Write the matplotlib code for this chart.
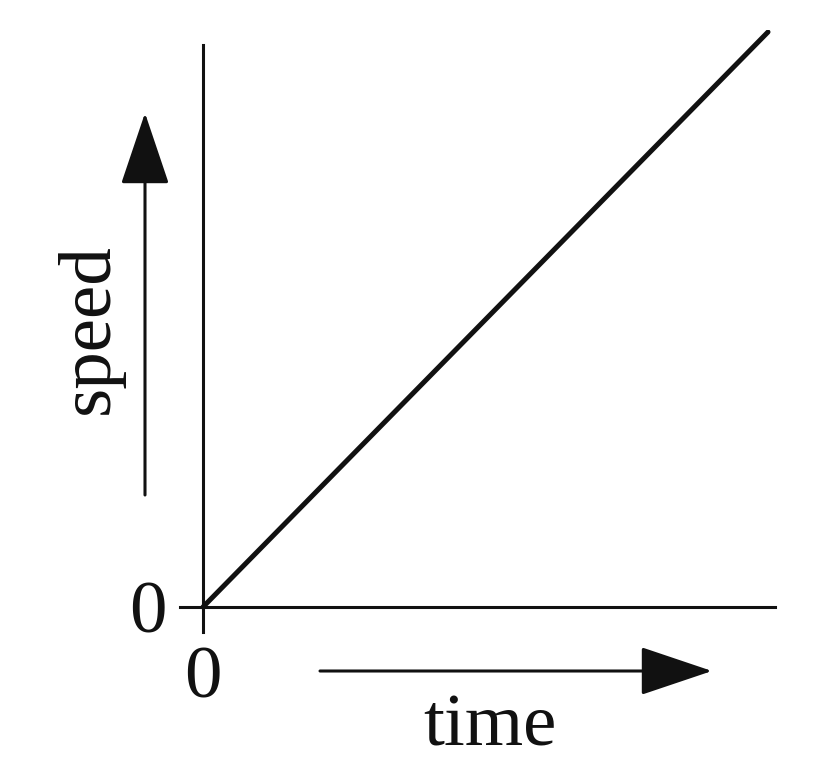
import matplotlib
matplotlib.use("Agg")
import matplotlib.pyplot as plt
from matplotlib.patches import FancyArrowPatch

# data: speed rises linearly with time from 0
time = [0, 10]
speed = [0, 10]
tick_labels = ["0"]
x_label = "time"
y_label = "speed"

W, H = 815, 769
fig = plt.figure(figsize=(W / 100, H / 100), dpi=100)
plt.rcParams['font.family'] = ['Liberation Serif', 'DejaVu Serif']

# axes box in pixels
L, R, T, B = 180, 775, 30, 634
ax = fig.add_axes([L / W, 1 - B / H, (R - L) / W, (B - T) / H])
ox, oy = 203, 607
xs = (768 - ox) / 10.0
ys = (oy - 32) / 10.0
ax.set_xlim(-(ox - L) / xs, (R - ox) / xs)
ax.set_ylim(-(B - oy) / ys, (oy - T) / ys)

ax.plot(time, speed, color='#111111', lw=3.6, solid_capstyle='round')

for s in ['top', 'right']:
    ax.spines[s].set_visible(False)
ax.spines['left'].set_position(('data', 0))
ax.spines['bottom'].set_position(('data', 0))
ax.spines['left'].set_bounds(-(632 - oy) / ys, (oy - 45) / ys)
ax.spines['bottom'].set_bounds(-(ox - 180) / xs, (775 - ox) / xs)
for s in ['left', 'bottom']:
    ax.spines[s].set_linewidth(2.2)
    ax.spines[s].set_color('#111111')

ax.set_xticks([0])
ax.set_xticklabels(tick_labels)
ax.set_yticks([0])
ax.set_yticklabels(tick_labels)
ax.tick_params(length=0, labelsize=54, colors='#111111')
ax.tick_params(axis='y', pad=26)
ax.tick_params(axis='x', pad=28)
ax.patch.set_alpha(0)

def fx(px):
    return px / W

def fy(py):
    return 1 - py / H

fig.text(fx(490), fy(745), x_label, fontsize=54, ha='center', va='baseline', color='#111111')
fig.text(fx(90), fy(329), y_label, fontsize=54, ha='center', va='center', rotation=90, color='#111111')

style = '-|>,head_length=4.6,head_width=1.55'
a1 = FancyArrowPatch((fx(320), fy(671)), (fx(712), fy(671)), transform=fig.transFigure,
                     arrowstyle=style, lw=2.2, color='#111111',
                     shrinkA=0, shrinkB=0, mutation_scale=10)
a2 = FancyArrowPatch((fx(145), fy(495)), (fx(145), fy(113)), transform=fig.transFigure,
                     arrowstyle=style, lw=2.2, color='#111111',
                     shrinkA=0, shrinkB=0, mutation_scale=10)
fig.patches.extend([a1, a2])

fig.savefig('out.png', dpi=100)
